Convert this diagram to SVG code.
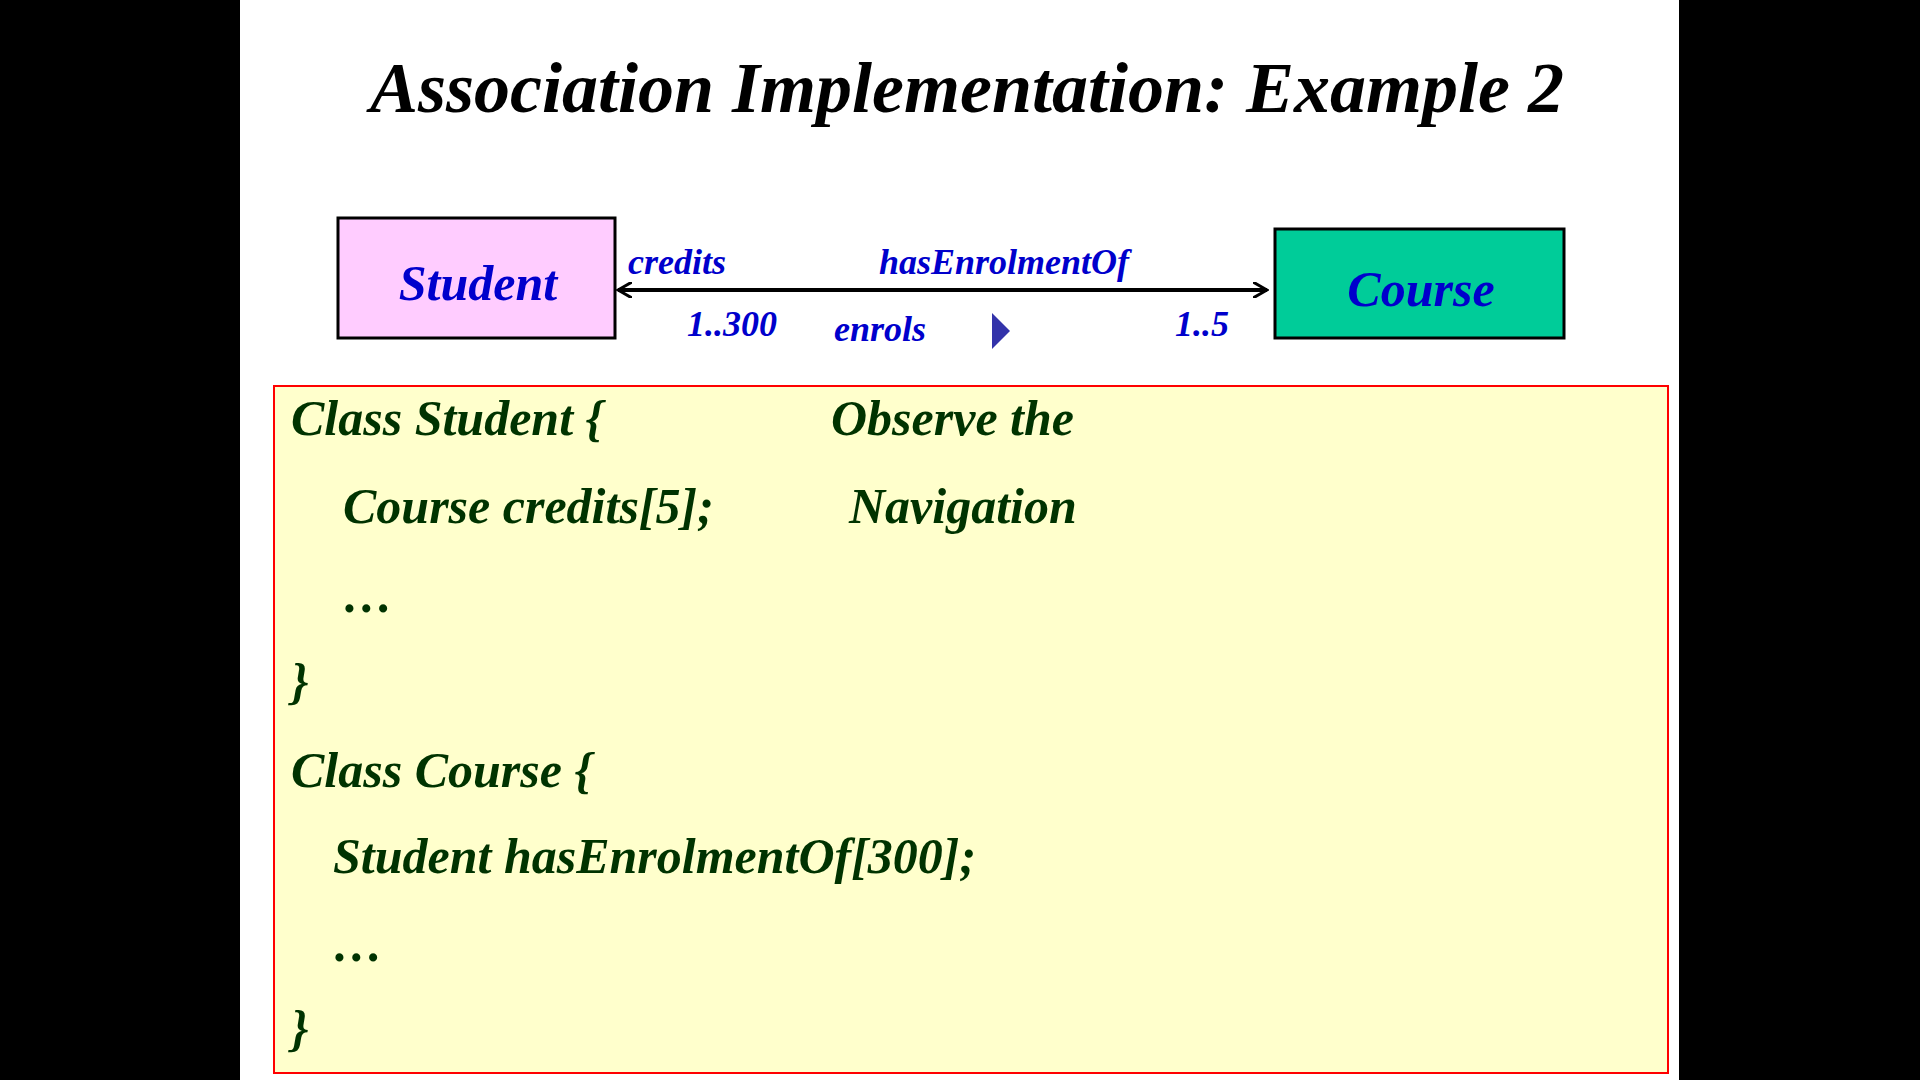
<svg xmlns="http://www.w3.org/2000/svg" width="1920" height="1080" viewBox="0 0 1920 1080">
<defs>
<style>
.t{font-family:"Liberation Serif",serif;font-style:italic;font-weight:bold}
.code{font-size:50px;fill:#003300}
.lbl{font-size:36px;fill:#0000cc}
</style>
<marker id="open" markerWidth="16" markerHeight="16" refX="14" refY="8" orient="auto-start-reverse" markerUnits="userSpaceOnUse">
<path d="M0,0 L14,8 L0,16" fill="none" stroke="#000" stroke-width="3"/>
</marker>
</defs>
<rect width="1920" height="1080" fill="#000"/>
<rect x="240" y="0" width="1439" height="1080" fill="#fff"/>
<text class="t" x="967" y="112" font-size="72" text-anchor="middle" fill="#000">Association Implementation: Example 2</text>
<g id="student"><rect x="338" y="218" width="277" height="120" fill="#ffccff" stroke="#000" stroke-width="3"/>
<text class="t" x="478" y="300" font-size="50" text-anchor="middle" fill="#0000cc">Student</text></g>
<g id="course"><rect x="1275" y="229" width="289" height="109" fill="#00cc99" stroke="#000" stroke-width="3"/>
<text class="t" x="1421" y="306" font-size="50" text-anchor="middle" fill="#0000cc">Course</text></g>
<g id="connectors">
<line x1="618" y1="290" x2="1267" y2="290" stroke="#000" stroke-width="4" marker-start="url(#open)" marker-end="url(#open)"/>
<text class="t lbl" x="628" y="274">credits</text>
<text class="t lbl" x="879" y="274">hasEnrolmentOf</text>
<text class="t lbl" x="687" y="336" font-size="32">1..300</text>
<text class="t lbl" x="834" y="341">enrols</text>
<polygon points="992,313 1010,331 992,349" fill="#3333aa"/>
<text class="t lbl" x="1175" y="336" font-size="32">1..5</text>
</g>
<g id="code"><rect x="274" y="386" width="1394" height="687" fill="#ffffcc" stroke="#ff0000" stroke-width="2"/>
<text class="t code" x="291" y="435">Class Student {</text>
<text class="t code" x="831" y="435">Observe the</text>
<text class="t code" x="343" y="523">Course credits[5];</text>
<text class="t code" x="849" y="523">Navigation</text>
<text class="t code" x="343" y="612">…</text>
<text class="t code" x="291" y="698">}</text>
<text class="t code" x="291" y="787">Class Course {</text>
<text class="t code" x="333" y="873">Student hasEnrolmentOf[300];</text>
<text class="t code" x="333" y="961">…</text>
<text class="t code" x="291" y="1045">}</text>
</g>
</svg>
